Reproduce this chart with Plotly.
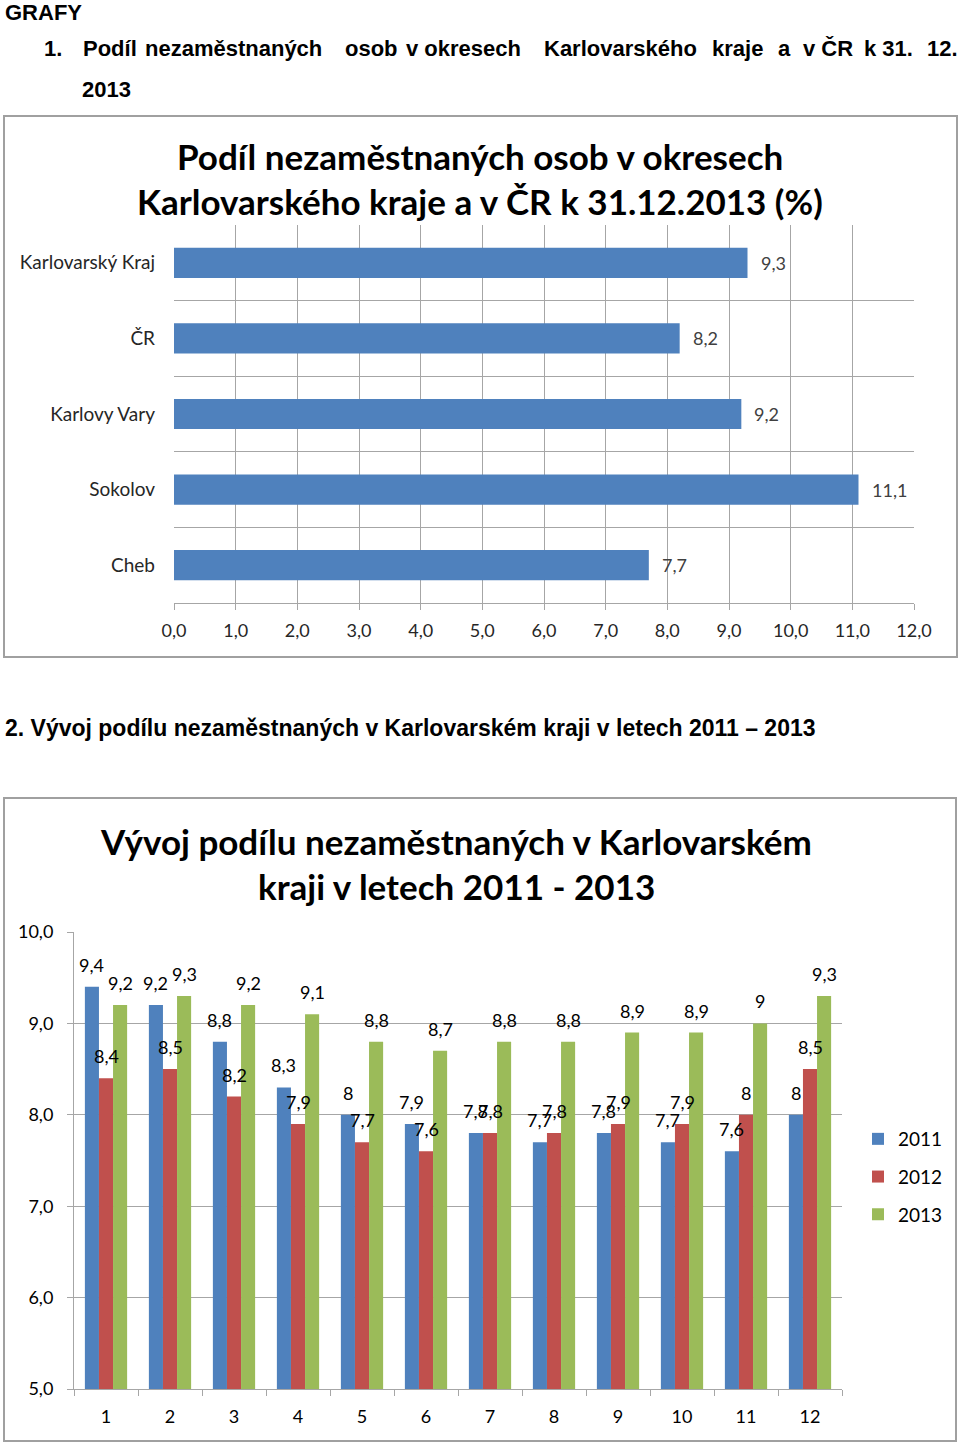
import plotly.graph_objects as go

W, H = 960, 1444

# ---------------- data ----------------
regions = ["Karlovarský Kraj", "ČR", "Karlovy Vary", "Sokolov", "Cheb"]
share_2013 = [9.3, 8.2, 9.2, 11.1, 7.7]

months = ["1", "2", "3", "4", "5", "6", "7", "8", "9", "10", "11", "12"]
years = ["2011", "2012", "2013"]
v2011 = [9.4, 9.2, 8.8, 8.3, 8.0, 7.9, 7.8, 7.7, 7.8, 7.7, 7.6, 8.0]
v2012 = [8.4, 8.5, 8.2, 7.9, 7.7, 7.6, 7.8, 7.8, 7.9, 7.9, 8.0, 8.5]
v2013 = [9.2, 9.3, 9.2, 9.1, 8.8, 8.7, 8.8, 8.8, 8.9, 8.9, 9.0, 9.3]
colors = ["#4F81BD", "#C0504D", "#9BBB59"]

def px(x):
    return x / W

def py(y):
    return 1 - y / H

def general(v):
    # Excel "General" number format with decimal comma
    return str(int(v)) if float(v).is_integer() else f"{v:.1f}".replace(".", ",")

CH = "Lato"
HD = "Liberation Sans"
GRID = "#A6A6A6"

fig = go.Figure()

# ---------- chart 1 ----------
fig.add_trace(go.Bar(
    x=share_2013, y=regions, orientation="h", width=0.4,
    marker=dict(color="#4F81BD", line=dict(width=0)),
    xaxis="x", yaxis="y", showlegend=False, hoverinfo="skip"))

# ---------- chart 2 ----------
for name, vals, col in zip(years, [v2011, v2012, v2013], colors):
    fig.add_trace(go.Bar(
        x=months, y=vals, name=name, marker=dict(color=col, line=dict(width=0)),
        xaxis="x2", yaxis="y2", legendgroup=name, hoverinfo="skip"))

ann = []
# value labels chart 1
for r, v in zip(regions, share_2013):
    ann.append(dict(x=v, y=r, xref="x", yref="y", text=f"{v:.1f}".replace(".", ","),
                    showarrow=False, xanchor="left", yanchor="middle", xshift=11,
                    font=dict(family=CH, size=18, color="#404040")))
# value labels chart 2 (category index positions on the category axis)
for i, vals in enumerate([v2011, v2012, v2013]):
    for k, v in enumerate(vals):
        ann.append(dict(x=k, y=v, xref="x2", yref="y2", text=general(v),
                        showarrow=False, xanchor="center", yanchor="middle",
                        xshift=(i - 1) * 14.1, yshift=22,
                        font=dict(family=CH, size=18, color="#000000")))

# document headings
def txt(x, y, s, size=22, bold=True, family=HD, anchor="left", color="#000"):
    ann.append(dict(x=px(x), y=py(y), xref="paper", yref="paper",
                    text=f"<b>{s}</b>" if bold else s, showarrow=False,
                    xanchor=anchor, yanchor="middle",
                    font=dict(family=family, size=size, color=color)))

txt(3, 12, "GRAFY")
txt(42, 49, "1.")
words = [(81, "Podíl"), (143, "nezaměstnaných"), (343, "osob"), (404, "v okresech"),
         (542, "Karlovarského"), (710, "kraje"), (776, "a"),
         (801, "v ČR"), (862, "k 31."), (925, "12.")]
for x, w in words:
    txt(x, 49, w)
txt(80, 89, "2013")
txt(3, 728, "2. Vývoj podílu nezaměstnaných v Karlovarském kraji v letech 2011 – 2013", size=23)

# chart titles
txt(480, 156, "Podíl nezaměstnaných osob v okresech", size=35, family=CH, anchor="center")
txt(480, 201, "Karlovarského kraje a v ČR k 31.12.2013 (%)", size=35, family=CH, anchor="center")
txt(456, 841, "Vývoj podílu nezaměstnaných v Karlovarském", size=35, family=CH, anchor="center")
txt(456, 886, "kraji v letech 2011 - 2013", size=35, family=CH, anchor="center")

shapes = [
    dict(type="rect", xref="paper", yref="paper", x0=px(4), x1=px(957), y0=py(657), y1=py(116),
         line=dict(color="#A0A0A0", width=2), layer="below"),
    dict(type="rect", xref="paper", yref="paper", x0=px(4), x1=px(956), y0=py(1441), y1=py(798),
         line=dict(color="#A0A0A0", width=2), layer="below"),
]

fig.update_layout(
    width=W, height=H, margin=dict(l=0, r=0, t=0, b=0, pad=0, autoexpand=False),
    paper_bgcolor="white", plot_bgcolor="white",
    separators=", ", barmode="group", bargap=0.34, bargroupgap=0,
    font=dict(family=CH, size=18, color="#000"),
    annotations=ann, shapes=shapes,
    xaxis=dict(domain=[px(174), px(914)], range=[0, 12], dtick=1, tickformat=".1f",
               showgrid=True, gridcolor=GRID, gridwidth=1, zeroline=False,
               showline=True, linecolor=GRID, ticks="outside", ticklen=6, tickcolor=GRID,
               ticklabelstandoff=5,
               tickfont=dict(family=CH, size=18, color="#262626"), anchor="y", fixedrange=True),
    yaxis=dict(domain=[py(603), py(225)], type="category", categoryorder="array",
               categoryarray=regions[::-1], tickson="boundaries", showgrid=True,
               gridcolor=GRID, gridwidth=1, ticks="", showline=False,
               ticklabelstandoff=18,
               tickfont=dict(family=CH, size=19, color="#262626"), anchor="x", fixedrange=True),
    xaxis2=dict(domain=[px(74), px(842)], type="category", range=[-0.5, 11.5],
                tickson="boundaries",
                showgrid=False, showline=True, linecolor=GRID, ticks="outside", ticklen=6,
                tickcolor=GRID, tickfont=dict(family=CH, size=18, color="#000"),
                ticklabelstandoff=11,
                anchor="y2", fixedrange=True),
    yaxis2=dict(domain=[py(1389), py(932)], range=[5, 10], dtick=1, tickformat=".1f",
                showgrid=True, gridcolor=GRID, gridwidth=1, zeroline=False,
                showline=True, linecolor=GRID, ticks="outside", ticklen=6, tickcolor=GRID,
                ticklabelstandoff=10,
                tickfont=dict(family=CH, size=18, color="#000"), anchor="x2", fixedrange=True),
    legend=dict(x=px(858), y=py(1120), xanchor="left", yanchor="top",
                font=dict(family=CH, size=19, color="#000"), tracegroupgap=10,
                traceorder="grouped", itemwidth=30, bgcolor="rgba(0,0,0,0)"),
)

fig.write_html("out.html")
